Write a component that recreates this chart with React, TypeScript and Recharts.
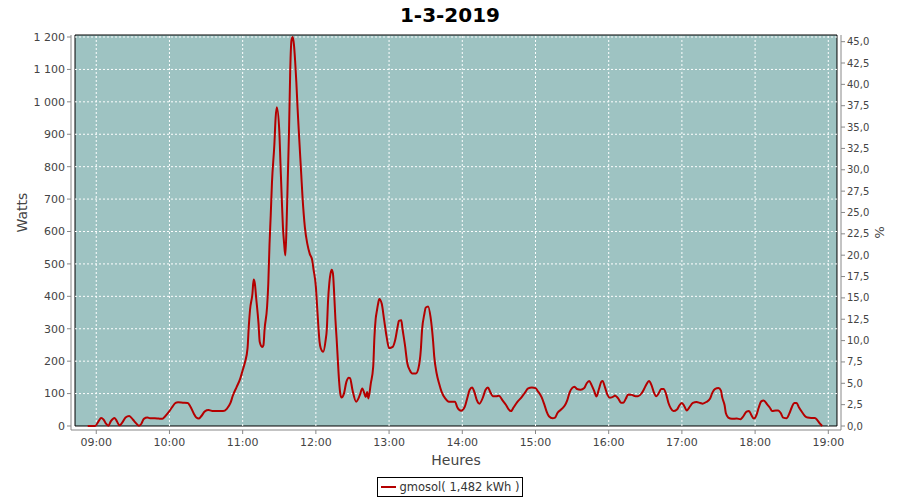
import { LineChart, Line, XAxis, YAxis, ReferenceArea, ReferenceLine } from 'recharts';

const times = [
    '08:53', '08:56', '08:59', '09:02', '09:04', '09:06', '09:08', '09:10', '09:12', '09:15',
    '09:17', '09:19', '09:21', '09:24', '09:27', '09:30', '09:32', '09:35', '09:37', '09:39',
    '09:42', '09:44', '09:48', '09:51', '09:54', '09:56', '09:59', '10:02', '10:05', '10:07',
    '10:11', '10:15', '10:17', '10:20', '10:22', '10:24', '10:26', '10:29', '10:32', '10:36',
    '10:40', '10:44', '10:47', '10:50', '10:52', '10:55', '10:58', '11:00', '11:02', '11:04',
    '11:05', '11:06', '11:08', '11:09', '11:10', '11:11', '11:13', '11:14', '11:16', '11:17',
    '11:18', '11:20', '11:21', '11:22', '11:23', '11:24', '11:26', '11:27', '11:28', '11:30',
    '11:31', '11:32', '11:33', '11:34', '11:35', '11:36', '11:37', '11:38', '11:39', '11:40',
    '11:41', '11:42', '11:43', '11:44', '11:45', '11:46', '11:48', '11:49', '11:51', '11:53',
    '11:55', '11:57', '11:58', '12:00', '12:01', '12:02', '12:03', '12:04', '12:06', '12:08',
    '12:09', '12:10', '12:11', '12:12', '12:13', '12:14', '12:15', '12:16', '12:17', '12:18',
    '12:19', '12:20', '12:21', '12:23', '12:25', '12:27', '12:28', '12:30', '12:33', '12:36',
    '12:38', '12:41', '12:42', '12:43', '12:45', '12:47', '12:48', '12:49', '12:50', '12:51',
    '12:52', '12:54', '12:56', '12:58', '13:00', '13:03', '13:05', '13:07', '13:08', '13:10',
    '13:11', '13:13', '13:15', '13:17', '13:19', '13:22', '13:24', '13:26', '13:27', '13:29',
    '13:30', '13:32', '13:34', '13:36', '13:37', '13:39', '13:41', '13:43', '13:46', '13:49',
    '13:51', '13:54', '13:56', '13:59', '14:02', '14:04', '14:06', '14:08', '14:10', '14:12',
    '14:14', '14:17', '14:19', '14:21', '14:23', '14:25', '14:28', '14:30', '14:33', '14:36',
    '14:38', '14:40', '14:42', '14:45', '14:48', '14:51', '14:54', '14:57', '15:00', '15:02',
    '15:05', '15:07', '15:09', '15:11', '15:14', '15:16', '15:18', '15:21', '15:24', '15:26',
    '15:28', '15:30', '15:32', '15:34', '15:37', '15:40', '15:42', '15:44', '15:46', '15:48',
    '15:50', '15:52', '15:54', '15:55', '15:57', '15:59', '16:01', '16:04', '16:05', '16:08',
    '16:10', '16:12', '16:14', '16:16', '16:19', '16:22', '16:24', '16:27', '16:29', '16:31',
    '16:33', '16:35', '16:37', '16:39', '16:41', '16:43', '16:45', '16:47', '16:49', '16:51',
    '16:53', '16:56', '16:58', '17:00', '17:02', '17:04', '17:06', '17:09', '17:12', '17:15',
    '17:17', '17:20', '17:23', '17:25', '17:27', '17:30', '17:32', '17:33', '17:35', '17:36',
    '17:38', '17:41', '17:45', '17:48', '17:50', '17:53', '17:55', '17:57', '17:59', '18:01',
    '18:03', '18:05', '18:07', '18:10', '18:12', '18:14', '18:17', '18:19', '18:21', '18:23',
    '18:26', '18:28', '18:30', '18:32', '18:34', '18:36', '18:39', '18:41', '18:43', '18:46',
    '18:49', '18:51', '18:53', '18:55',
];

const watts = [
    0, 0, 0, 15, 25, 20, 7, 1, 15, 25,
    14, 2, 9, 26, 31, 20, 11, 1, 7, 22,
    26, 24, 24, 23, 22, 28, 41, 57, 71, 73,
    72, 71, 61, 38, 26, 23, 30, 45, 49, 46,
    46, 46, 53, 71, 94, 120, 146, 172, 198, 240,
    306, 357, 408, 452, 439, 398, 316, 259, 244, 249,
    300, 367, 439, 560, 650, 750, 870, 950, 983, 911,
    808, 706, 613, 562, 526, 623, 767, 911, 1100, 1190,
    1200, 1177, 1126, 1060, 980, 910, 777, 710, 613, 562,
    531, 511, 485, 429, 370, 310, 260, 240, 229, 265,
    300, 388, 440, 470, 482, 470, 408, 330, 270, 203,
    140, 100, 88, 100, 136, 149, 148, 111, 75, 95,
    116, 90, 105, 85, 131, 183, 275, 330, 355, 377,
    392, 377, 326, 275, 240, 244, 265, 306, 324, 326,
    300, 250, 193, 172, 162, 162, 177, 234, 295, 347,
    365, 369, 336, 265, 215, 162, 131, 106, 85, 75,
    75, 75, 57, 47, 59, 85, 111, 119, 104, 79,
    69, 89, 111, 119, 104, 92, 92, 93, 79, 64,
    51, 46, 57, 74, 86, 101, 116, 119, 117, 107,
    89, 69, 46, 30, 24, 26, 40, 51, 63, 79,
    104, 117, 121, 114, 112, 117, 132, 139, 126, 109,
    91, 114, 137, 139, 119, 96, 87, 91, 94, 84,
    72, 72, 84, 97, 96, 92, 92, 101, 114, 129,
    139, 127, 104, 92, 101, 114, 114, 99, 71, 54,
    46, 51, 64, 71, 61, 48, 57, 71, 74, 71,
    69, 74, 84, 103, 114, 117, 109, 89, 64, 40,
    26, 22, 23, 21, 28, 44, 46, 33, 23, 33,
    57, 76, 79, 66, 57, 46, 48, 48, 40, 26,
    24, 38, 57, 71, 71, 57, 40, 30, 26, 25,
    25, 18, 8, 0,
];

const hourTicks = ['09:00', '10:00', '11:00', '12:00', '13:00', '14:00', '15:00', '16:00', '17:00', '18:00', '19:00'];
const wattTicks = [0, 100, 200, 300, 400, 500, 600, 700, 800, 900, 1000, 1100, 1200];
const pctTicks = [0, 2.5, 5, 7.5, 10, 12.5, 15, 17.5, 20, 22.5, 25, 27.5, 30, 32.5, 35, 37.5, 40, 42.5, 45];

const toMin = (s: string) => {
    const [h, m] = s.split(':').map(Number);
    return h * 60 + m;
};

const pad = (n: number) => (n < 10 ? '0' + n : '' + n);
const fmtTime = (v: number) => pad(Math.floor(v / 60)) + ':' + pad(v % 60);
const fmtWatt = (v: number) => (v >= 1000 ? Math.floor(v / 1000) + ' ' + String(v % 1000).padStart(3, '0') : String(v));
const fmtPct = (v: number) => v.toFixed(1).replace('.', ',');

const data = times.map((t, i) => ({ t: toMin(t), w: watts[i] }));

// plot background spans a bit less than the axis range (axes are offset like in JFreeChart)
const X0 = 522.6;
const X1 = 1147.1;
const YTOP = 1206.2;

const FONT = '"DejaVu Sans", sans-serif';
const tickStyle = { fontSize: 11, fill: '#444', fontFamily: FONT };

export default function App() {
    return (
        <div style={{ position: 'absolute', left: 0, top: 0, width: 900, height: 500, background: '#fff', fontFamily: FONT }}>
            <div style={{ position: 'absolute', top: 3, left: 0, width: 900, textAlign: 'center', fontWeight: 'bold', fontSize: 20, color: '#000' }}>
                1-3-2019
            </div>
            <LineChart width={900} height={500} data={data} margin={{ top: 35, right: 0, bottom: 0, left: 0 }}>
                <XAxis
                    dataKey="t"
                    type="number"
                    domain={[519.3, 1150.4]}
                    allowDataOverflow
                    ticks={hourTicks.map(toMin)}
                    tickFormatter={fmtTime}
                    height={70}
                    tickSize={4}
                    tickMargin={4}
                    stroke="#888"
                    tick={tickStyle}
                    label={{ value: 'Heures', position: 'insideTop', offset: 25, fontSize: 14, fill: '#444', fontFamily: FONT }}
                />
                <YAxis
                    yAxisId="w"
                    type="number"
                    domain={[-12.34, YTOP]}
                    allowDataOverflow
                    ticks={wattTicks}
                    tickFormatter={fmtWatt}
                    width={71}
                    tickSize={4}
                    stroke="#888"
                    tick={tickStyle}
                    label={{ value: 'Watts', angle: -90, position: 'insideLeft', offset: 22, fontSize: 14, fill: '#444', fontFamily: FONT }}
                />
                <YAxis
                    yAxisId="pct"
                    orientation="right"
                    type="number"
                    domain={[-0.468, 45.78]}
                    allowDataOverflow
                    ticks={pctTicks}
                    tickFormatter={fmtPct}
                    width={59}
                    tickSize={4}
                    stroke="#888"
                    tick={{ ...tickStyle, fontSize: 10 }}
                    label={{ value: '%', angle: 90, position: 'center', dx: 9, fontSize: 13, fill: '#444', fontFamily: FONT }}
                />
                <ReferenceArea yAxisId="w" x1={X0} x2={X1} y1={0} y2={YTOP} fill="#9ec3c2" fillOpacity={1} stroke="none" />
                {hourTicks.map((h) => (
                    <ReferenceLine
                        key={'v' + h}
                        yAxisId="w"
                        segment={[{ x: toMin(h), y: 0 }, { x: toMin(h), y: YTOP }]}
                        stroke="#fff"
                        strokeDasharray="2 2"
                    />
                ))}
                {wattTicks.slice(1).map((w) => (
                    <ReferenceLine
                        key={'h' + w}
                        yAxisId="w"
                        segment={[{ x: X0, y: w }, { x: X1, y: w }]}
                        stroke="#fff"
                        strokeDasharray="2 2"
                    />
                ))}
                <Line
                    yAxisId="w"
                    dataKey="w"
                    type="monotone"
                    stroke="#b40000"
                    strokeWidth={2}
                    dot={false}
                    isAnimationActive={false}
                />
                <ReferenceArea yAxisId="w" x1={X0} x2={X1} y1={0} y2={YTOP} fill="none" stroke="#000" strokeWidth={1} />
            </LineChart>
            <div style={{ position: 'absolute', top: 477, left: 0, width: 900, display: 'flex', justifyContent: 'center' }}>
                <div style={{ border: '1px solid #000', padding: '2px 3px', display: 'flex', alignItems: 'center', fontSize: 11.5, color: '#333' }}>
                    <span style={{ display: 'inline-block', width: 15, height: 2, background: '#b40000', marginRight: 4 }} />
                    gmosol( 1,482 kWh )
                </div>
            </div>
        </div>
    );
}
